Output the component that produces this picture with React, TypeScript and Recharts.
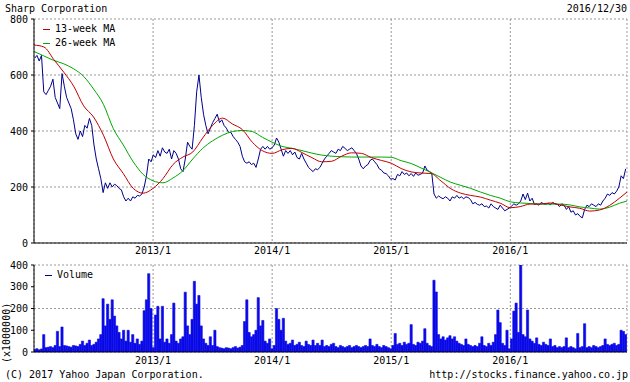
import React from 'react';
import { LineChart, Line, BarChart, Bar, XAxis, YAxis, CartesianGrid } from 'recharts';

// weekly close, yen (one point per week from early Jan 2012)
const closePrice = [
  660, 670, 650, 670, 540, 530, 545, 560, 585, 520,
  500, 480, 605, 560, 520, 500, 480, 440, 390, 370,
  400, 380, 420, 410, 445, 420, 350, 300, 265, 230,
  180, 215, 195, 215, 200, 210, 205, 195, 190, 165,
  150, 160, 150, 165, 160, 170, 168, 175, 200, 240,
  300, 290, 315, 305, 330, 310, 340, 325, 320, 335,
  300, 330, 320, 300, 265, 255, 300, 360, 345, 335,
  420, 540, 600, 520, 460, 420, 390, 410, 430, 445,
  460, 430, 440, 420, 410, 395, 395, 380, 370, 360,
  345, 310, 290, 285, 290, 280, 285, 270, 300, 335,
  345, 335, 345, 335, 340, 350, 375, 360, 335, 310,
  330, 320, 330, 315, 325, 305, 300, 320, 300, 285,
  270, 262, 255, 265, 262, 270, 285, 300, 310, 320,
  330, 325, 320, 335, 330, 345, 338, 330, 335, 340,
  330, 320, 300, 275, 265, 275, 280, 295, 300, 290,
  280, 265, 260, 250, 248, 240, 228, 230, 225, 245,
  240, 255, 245, 250, 240, 248, 238, 250, 242, 245,
  250, 275, 260, 255, 250, 175, 160, 168, 162, 158,
  165, 160, 150, 165, 160, 170, 160, 165, 158, 165,
  162, 155, 140, 145, 138, 135, 140, 130, 132, 125,
  140, 130, 125, 120, 135, 125, 115, 120, 125, 132,
  140, 135, 140, 150, 175, 155, 178, 150, 160, 138,
  140, 135, 145, 140, 138, 142, 136, 145, 140, 138,
  130, 140, 135, 120, 130, 110, 115, 100, 105, 95,
  90, 120, 135, 130, 140, 135, 130, 140, 135, 150,
  160, 175, 170, 180, 175, 185, 200, 240, 230, 265,
];

// weekly volume peaks, x1000000 shares
const volume = [
  12, 15, 10, 14, 80, 20, 22, 25, 20, 30,
  95, 25, 115, 30, 28, 25, 22, 30, 28, 25,
  35, 50, 30, 40, 55, 30, 35, 45, 60, 80,
  245, 120, 220, 150, 240, 165, 120, 90, 60, 100,
  50, 100, 45, 80, 40, 60, 35, 50, 190, 240,
  360, 200, 20, 170, 210, 60, 210, 45, 60, 40,
  80, 225, 50, 40, 60, 70, 275, 120, 80, 150,
  325, 220, 260, 120, 60, 40, 30, 70, 30, 100,
  25, 20, 18, 15, 20, 18, 15, 20, 25, 18,
  22, 30, 140, 240, 90, 70, 80, 100, 250, 120,
  145, 50, 40, 60, 15, 30, 200, 150, 100, 155,
  50, 35, 40, 55, 30, 35, 45, 30, 25, 50,
  35, 30, 55, 30, 40, 30, 55, 25, 30, 25,
  35, 40, 25, 20, 30, 25, 20, 25, 30, 20,
  25, 30, 25, 20, 25, 30, 25, 60, 30, 25,
  35, 25, 20, 30, 25, 20, 15, 30, 85, 35,
  40, 30, 45, 35, 40, 126, 35, 30, 45, 40,
  50, 107, 40, 30, 25, 330, 276, 80, 60, 70,
  55, 65, 75, 60, 70, 50, 40, 35, 30, 60,
  35, 30, 25, 30, 25, 40, 70, 30, 25, 40,
  30, 45, 80, 193, 135, 40, 30, 100, 15, 60,
  188, 225, 90, 400, 80, 70, 193, 60, 50, 40,
  65, 35, 30, 45, 35, 30, 60, 25, 30, 20,
  25, 20, 25, 65, 20, 25, 20, 15, 85, 20,
  25, 130, 20, 25, 20, 30, 25, 20, 25, 30,
  60, 35, 30, 35, 40, 30, 35, 100, 95, 80,
];

// moving averages, one reading per month start (2012/1 .. 2016/12 end)
const ma13 = [
  707, 700, 655, 610, 560, 490, 450, 385, 300, 248,
  195, 178, 195, 230, 280, 307, 325, 375, 420, 446,
  425, 405, 360, 330, 320, 333, 338, 323, 305, 290,
  292, 310, 322, 320, 305, 295, 285, 266, 254, 250,
  248, 222, 194, 178, 170, 164, 153, 142, 126, 130,
  139, 139, 143, 136, 129, 124, 114, 118, 134, 160,
  182,
];
const ma26 = [
  684, 668, 652, 640, 622, 595, 550, 495, 408, 350,
  290, 245, 222, 215, 232, 258, 300, 338, 365, 385,
  398, 402, 398, 378, 360, 345, 338, 330, 321, 314,
  310, 308, 307, 307, 307, 307, 306, 294, 284, 268,
  252, 234, 217, 206, 195, 182, 170, 160, 147, 143,
  141, 139, 139, 139, 136, 129, 125, 121, 128, 142,
  150,
];

const yearTicks = [2013, 2014, 2015, 2016];
const priceTicks = [0, 200, 400, 600, 800];
const volumeTicks = [0, 100, 200, 300, 400];
const legendItems = [
  { name: '13-week MA', color: '#c00000' },
  { name: '26-week MA', color: '#00a800' },
];

const FONT = '"DejaVu Sans Mono", monospace';
const X_DOMAIN: [number, number] = [2012, 2016.98];
const VOL_BLUE = '#0a0ae8';

const weekT = (i: number) => 2012 + (i * 7 + 2) / 365.25;
const priceData = closePrice.map((v, i) => ({ t: weekT(i), close: v }));
const volumeData = volume.map((v, i) => ({ t: weekT(i), volume: v }));
const ma13Data = ma13.map((v, i) => ({ t: Math.min(2012 + i / 12, 2016.98), ma: v }));
const ma26Data = ma26.map((v, i) => ({ t: Math.min(2012 + i / 12, 2016.98), ma: v }));

const tickStyle = { fontFamily: FONT, fontSize: 10, fill: '#000' };

const abs = (s: React.CSSProperties): React.CSSProperties => ({
  position: 'absolute', fontFamily: FONT, fontSize: 10, lineHeight: '12px', color: '#000', whiteSpace: 'nowrap', ...s,
});

const LegendBox = ({ items, left, top }: { items: { name: string; color: string }[]; left: number; top: number }) => (
  <div style={abs({ left, top, lineHeight: '14px' })}>
    {items.map((it) => (
      <div key={it.name} style={{ display: 'flex', alignItems: 'center' }}>
        <span style={{ display: 'inline-block', width: 7, height: 1, background: it.color, marginRight: 5 }} />
        <span>{it.name}</span>
      </div>
    ))}
  </div>
);

export default function App() {
  return (
    <div style={{ position: 'absolute', left: 0, top: 0, width: 630, height: 382, background: '#fff', overflow: 'hidden' }}>
      <div style={abs({ left: 5, top: 3 })}>Sharp Corporation</div>
      <div style={abs({ right: 3, top: 3 })}>2016/12/30</div>

      <div style={{ position: 'absolute', left: 0, top: 0 }}>
        <LineChart width={630} height={262} margin={{ top: 19, right: 3, bottom: 0, left: 0 }}>
          <CartesianGrid stroke="#999" strokeDasharray="2 2" />
          <XAxis dataKey="t" type="number" domain={X_DOMAIN} ticks={yearTicks} allowDataOverflow
            tickFormatter={(v) => `${v}/1`} tick={tickStyle} tickLine={false} tickSize={0} tickMargin={4}
            height={19} axisLine={{ stroke: '#000' }} />
          <XAxis xAxisId="top" orientation="top" dataKey="t" type="number" domain={X_DOMAIN}
            allowDataOverflow height={0} tick={false} tickLine={false} axisLine={{ stroke: '#000' }} />
          <YAxis type="number" domain={[0, 800]} ticks={priceTicks} width={34} tick={tickStyle}
            tickSize={3} tickMargin={3} axisLine={{ stroke: '#000' }} tickLine={{ stroke: '#000' }} allowDataOverflow />
          <YAxis yAxisId="right" orientation="right" type="number" domain={[0, 800]} ticks={priceTicks}
            width={0} tick={false} tickSize={3} axisLine={{ stroke: '#000' }} tickLine={{ stroke: '#000' }} />
          <Line data={priceData} dataKey="close" type="linear" stroke="#00008b" strokeWidth={1}
            dot={false} isAnimationActive={false} legendType="none" />
          <Line data={ma26Data} dataKey="ma" name="26-week MA" type="monotone" stroke={legendItems[1].color}
            strokeWidth={1} dot={false} isAnimationActive={false} />
          <Line data={ma13Data} dataKey="ma" name="13-week MA" type="monotone" stroke={legendItems[0].color}
            strokeWidth={1} dot={false} isAnimationActive={false} />
        </LineChart>
      </div>
      <LegendBox items={legendItems} left={43} top={22} />

      <div style={{ position: 'absolute', left: 0, top: 250 }}>
        <BarChart width={630} height={132} data={volumeData} margin={{ top: 15, right: 3, bottom: 0, left: 0 }}
          barCategoryGap={0}>
          <CartesianGrid stroke="#999" strokeDasharray="2 2" />
          <XAxis dataKey="t" type="number" domain={X_DOMAIN} ticks={yearTicks} allowDataOverflow
            tickFormatter={(v) => `${v}/1`} tick={tickStyle} tickLine={false} tickSize={0} tickMargin={5}
            height={30} axisLine={{ stroke: '#000' }} />
          <XAxis xAxisId="top" orientation="top" dataKey="t" type="number" domain={X_DOMAIN}
            allowDataOverflow height={0} tick={false} tickLine={false} axisLine={{ stroke: '#000' }} />
          <YAxis type="number" domain={[0, 400]} ticks={volumeTicks} width={34} tick={tickStyle}
            tickSize={3} tickMargin={3} axisLine={{ stroke: '#000' }} tickLine={{ stroke: '#000' }} allowDataOverflow />
          <YAxis yAxisId="right" orientation="right" type="number" domain={[0, 400]} ticks={volumeTicks}
            width={0} tick={false} tickSize={3} axisLine={{ stroke: '#000' }} tickLine={{ stroke: '#000' }} />
          <Bar dataKey="volume" fill={VOL_BLUE} stroke={VOL_BLUE} strokeWidth={0.6} barSize={2.2}
            isAnimationActive={false} />
        </BarChart>
      </div>
      <LegendBox items={[{ name: 'Volume', color: '#00008b' }]} left={45} top={268} />

      <div style={abs({ left: -23, top: 327, width: 60, textAlign: 'center', transform: 'rotate(-90deg)' })}>
        (x1000000)
      </div>
      <div style={abs({ left: 5, top: 369 })}>(C) 2017 Yahoo Japan Corporation.</div>
      <div style={abs({ right: 2, top: 369 })}>http://stocks.finance.yahoo.co.jp</div>
    </div>
  );
}
